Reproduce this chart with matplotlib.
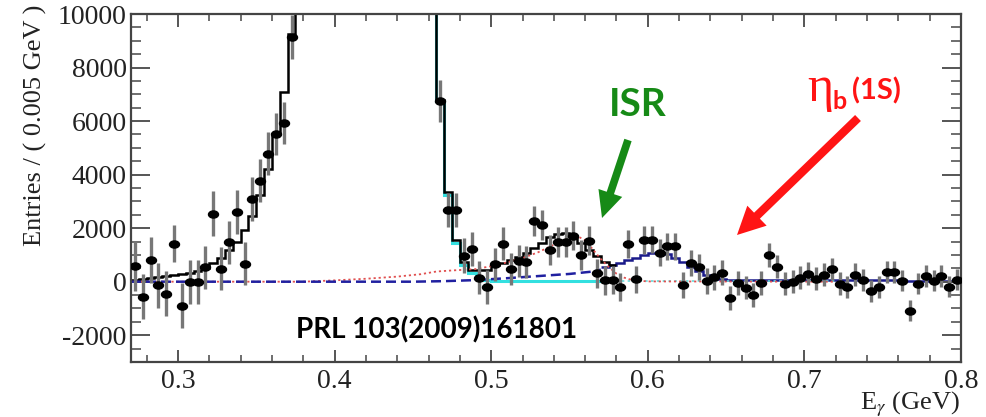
import numpy as np
import matplotlib
matplotlib.use("Agg")
import matplotlib.pyplot as plt
from matplotlib.path import Path
from matplotlib.patches import FancyArrowPatch, ArrowStyle
from matplotlib.ticker import MultipleLocator
import matplotlib.transforms as mtrans

# ---------------- data (bins of 0.005 GeV, 0.27 - 0.80) ----------------
bin_lo = 0.27
bin_w = 0.005

# measured entries per bin (bins 21-38 are off scale, above 10000)
entries = [
    600, -560, 800, -130, -450, 1420, -900, 0, 0, 540,
    2540, 480, 1470, 2610, 670, 3100, 3770, 4780, 5520, 5930,
    9140, 12800, 17500, 23000, 29000, 35000, 40000, 44000, 46000, 45000,
    41000, 36000, 30000, 25000, 21000, 17500, 14500, 12500, 11500, 6750,
    2690, 2690, 970, 1230, 150, -200, 650, 1420, 480, 760,
    730, 2280, 2130, 1180, 1490, 1490, 1720, 990, 1530, 320,
    60, 60, -200, 1420, 90, 1570, 1570, 1080, 1320, 1320,
    -110, 700, 560, 20, 170, 330, -600, -40, -220, -490,
    -40, 1010, 560, -75, 0, 150, 300, 110, 260, 480,
    -75, -190, 260, 75, -340, -190, 370, 370, 40, -1080,
    -75, 220, 40, 220, -190, 75,
]
errors = [
    930, 850, 860, 840, 850, 700, 840, 820, 820, 800,
    840, 800, 800, 810, 800, 820, 800, 800, 790, 780,
    820, 900, 950, 1000, 1050, 1100, 1150, 1200, 1200, 1200,
    1150, 1100, 1050, 1000, 950, 900, 880, 860, 840, 800,
    630, 630, 650, 640, 620, 620, 620, 610, 610, 600,
    600, 560, 560, 560, 560, 560, 550, 550, 550, 540,
    540, 520, 520, 520, 510, 520, 510, 500, 500, 500,
    490, 490, 480, 480, 470, 470, 450, 450, 440, 440,
    450, 450, 440, 440, 430, 430, 430, 430, 420, 420,
    420, 420, 420, 410, 410, 410, 410, 410, 400, 400,
    400, 400, 400, 400, 400, 400,
]

# total fit (black), bins 0-61
fit_total = [
    80, 110, 140, 170, 200, 240, 280, 330, 400, 520,
    700, 900, 1190, 1500, 1940, 2450, 3250, 4200, 5500, 7100,
    9250, 12500, 17000, 23000, 29000, 35000, 40000, 44000, 46000, 45000,
    41000, 36000, 30000, 25000, 21000, 17500, 14500, 12500, 11000, 6800,
    3360, 1570, 720, 450, 440, 450, 630, 700, 820, 930,
    1080, 1270, 1450, 1680, 1800, 1820, 1700, 1450, 1200, 950,
    720, 640,
]
# photon line component (cyan), bins 38-61
fit_line_first = 38
fit_line = [
    11000, 6750, 3250, 1450, 630, 330, 150, 60, 30, 20,
    20, 20, 20, 20, 20, 20, 20, 20, 20, 20,
    20, 20, 20, 20,
]
# signal + background (navy), bins 60-105
fit_sig_first = 60
fit_sig = [
    560, 640, 700, 800, 900, 1000, 1060, 1110, 1050, 900,
    720, 560, 400, 250, 150, 100, 80, 75, 72, 70,
    68, 66, 64, 62, 60, 58, 57, 56, 55, 54,
    53, 52, 51, 50, 49, 48, 47, 46, 45, 44,
    43, 42, 41, 40, 40, 40,
]
# background (blue dashed)
bg_x = [0.27, 0.45, 0.47, 0.49, 0.51, 0.53, 0.55, 0.565, 0.570]
bg_y = [0, 0, 20, 60, 130, 210, 290, 380, 450]
# ISR component (red dotted)
isr_x = [0.27, 0.38, 0.40, 0.42, 0.44, 0.455, 0.465, 0.475, 0.49, 0.50, 0.51, 0.52,
         0.53, 0.54, 0.55, 0.555, 0.56, 0.565, 0.57, 0.575, 0.58, 0.585, 0.59, 0.60, 0.72]
isr_y = [0, 0, 50, 110, 190, 280, 380, 420, 470, 580, 720, 880,
         1100, 1380, 1650, 1700, 1550, 1200, 850, 550, 300, 150, 60, 10, 0]
tail_x = [0.58, 0.72]
tail_y = [20, 20]

edges = bin_lo + bin_w * np.arange(len(entries) + 1)
centers = 0.5 * (edges[:-1] + edges[1:])

# ---------------- figure ----------------
W, H = 987, 417
plt.rcParams['font.family'] = 'Liberation Serif'
plt.rcParams['mathtext.fontset'] = 'stix'
plt.rcParams['axes.unicode_minus'] = False

fig = plt.figure(figsize=(W / 100, H / 100), dpi=100)
ax = fig.add_axes([131 / W, 1 - 362 / H, (961 - 131) / W, (362 - 14) / H])


def fig_xy(x, y):
    return (x / W, 1 - y / H)


ax.plot(tail_x, tail_y, color='#66dddd', lw=1.2, ls=(0, (1.5, 2)))
ax.plot(isr_x, isr_y, color='#e05050', lw=1.3, ls=(0, (1.2, 1.6)))
ax.stairs(fit_line, edges[fit_line_first:fit_line_first + len(fit_line) + 1],
          color='#33e0e0', lw=2.2, baseline=None)
ax.plot(bg_x, bg_y, color='#2020a0', lw=1.8, ls=(0, (4, 2)))
ax.stairs(fit_sig, edges[fit_sig_first:fit_sig_first + len(fit_sig) + 1],
          color='#1a1a8a', lw=1.8, baseline=None)
ax.stairs(fit_total, edges[:len(fit_total) + 1], color='black', lw=1.8, baseline=None)

ellipse = Path.unit_circle().transformed(mtrans.Affine2D().scale(1.4, 1.0))
ax.errorbar(centers, entries, yerr=errors, fmt='none', ecolor='#777777', elinewidth=2.4,
            capsize=0, zorder=4)
ax.plot(centers, entries, ls='none', marker=ellipse, markersize=7.2, color='black', zorder=5)

ax.set_xlim(0.27, 0.80)
ax.set_ylim(-3000, 10000)
ax.xaxis.set_major_locator(MultipleLocator(0.1))
ax.xaxis.set_minor_locator(MultipleLocator(0.02))
ax.yaxis.set_major_locator(MultipleLocator(2000))
ax.yaxis.set_minor_locator(MultipleLocator(500))
ax.tick_params(which='both', direction='in', top=True, right=True, colors='#555',
               labelcolor='#222', labelsize=20)
ax.tick_params(axis='y', which='major', length=14, width=1.4, pad=3)
ax.tick_params(axis='y', which='minor', length=7, width=1.2)
ax.tick_params(axis='x', which='major', length=9, width=1.4, pad=5)
ax.tick_params(axis='x', which='minor', length=5, width=1.2)
for sp in ax.spines.values():
    sp.set_color('#444')
    sp.set_linewidth(1.6)

fig.text(*fig_xy(35, 125), 'Entries / ( 0.005 GeV )', rotation=90, ha='center', va='center',
         fontsize=19, color='#222')
fig.text(*fig_xy(960, 409), r'E$_{\gamma}$ (GeV)', ha='right', va='baseline', fontsize=19,
         color='#222')

# annotations
green = '#168a16'
red = '#ff1414'
fig.text(*fig_xy(638, 105), 'ISR', color=green, fontsize=28, fontweight='bold',
         family='Lato', ha='center', va='center')
fig.add_artist(FancyArrowPatch(fig_xy(628, 140), fig_xy(602, 218), transform=fig.transFigure,
                               arrowstyle=ArrowStyle.Simple(head_length=1.9, head_width=1.8,
                                                            tail_width=0.55),
                               mutation_scale=10, color=green, lw=0, shrinkA=0, shrinkB=0))
fig.text(*fig_xy(807, 101), '\u03b7', color=red, fontsize=36, family='Liberation Serif',
         ha='left', va='baseline')
fig.text(*fig_xy(832, 109), 'b', color=red, fontsize=18, fontweight='bold', family='Lato',
         ha='left', va='baseline')
fig.text(*fig_xy(852, 99), '(1S)', color=red, fontsize=21, fontweight='bold', family='Lato',
         ha='left', va='baseline')
fig.add_artist(FancyArrowPatch(fig_xy(858, 118), fig_xy(737, 235), transform=fig.transFigure,
                               arrowstyle=ArrowStyle.Simple(head_length=2.0, head_width=2.0,
                                                            tail_width=0.6),
                               mutation_scale=10, color=red, lw=0, shrinkA=0, shrinkB=0))
fig.text(*fig_xy(437, 330), 'PRL 103(2009)161801', color='black', fontsize=20,
         fontweight='bold', family='Lato', ha='center', va='center')

fig.savefig('out.png', dpi=100)
